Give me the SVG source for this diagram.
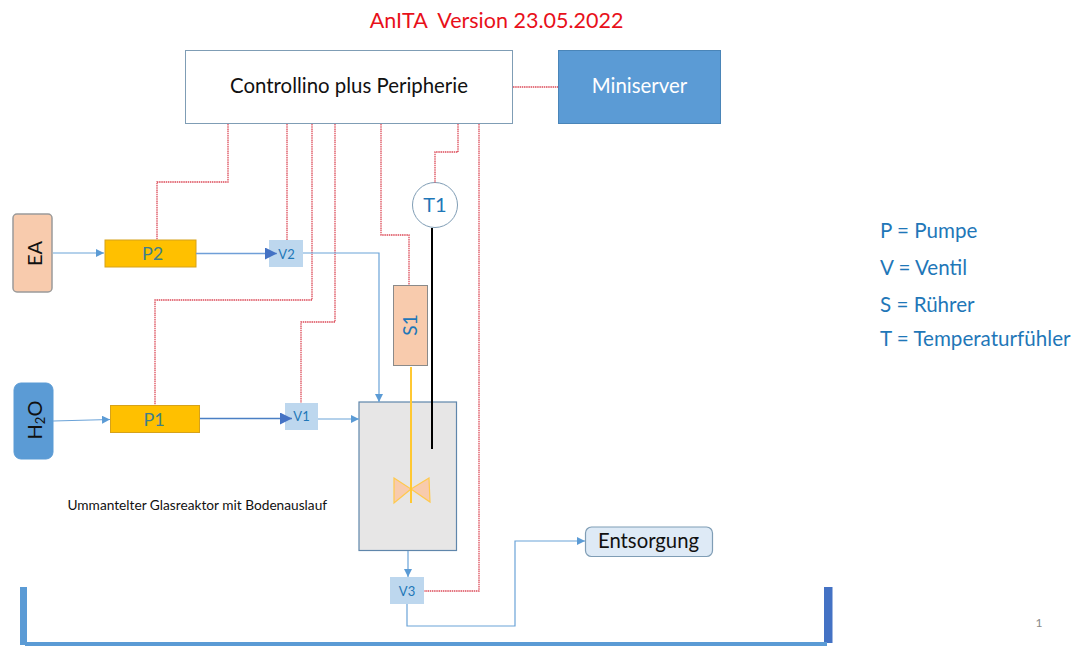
<svg xmlns="http://www.w3.org/2000/svg" width="1073" height="646" viewBox="0 0 1073 646">
<style>
text{font-family:"Lato","Open Sans",sans-serif}
.red{fill:none;stroke:#dc4a58;stroke-width:1.300;stroke-dasharray:1.500 .7}
.flow{fill:none;stroke:#6ba3d8;stroke-width:1.200}
.pump{fill:#ffc000;stroke:#d6a21a;stroke-width:1}
.valve{fill:#bdd7ee}
.blue{fill:#1f77b8}
</style>
<defs>
<marker id="a" markerWidth="9" markerHeight="8" refX="8" refY="4" orient="auto" markerUnits="userSpaceOnUse"><path d="M0 0L8 4L0 8Z" fill="#5b9bd5"/></marker>
<marker id="b" markerWidth="12" markerHeight="12" refX="12" refY="6" orient="auto" markerUnits="userSpaceOnUse"><path d="M0 0L12 6L0 12Z" fill="#4472c4"/></marker>
</defs>
<rect width="1073" height="646" fill="#fff"/>
<text x="496.500" y="28" font-size="21.500" fill="#e8101a" text-anchor="middle" xml:space="preserve">AnITA  Version 23.05.2022</text>
<g id="controllino"><rect x="185.500" y="50.500" width="327" height="73" fill="#fff" stroke="#7f9db5"/><text x="349" y="93" font-size="20.400" text-anchor="middle" fill="#111">Controllino plus Peripherie</text></g>
<g id="miniserver"><rect x="558.500" y="50.500" width="162" height="73" fill="#5b9bd5" stroke="#4a85b8"/><text x="639.500" y="93" font-size="20.400" text-anchor="middle" fill="#fff">Miniserver</text></g>
<g id="t1"><circle cx="435" cy="205" r="22.500" fill="#fff" stroke="#7f9db5"/><text x="435" y="211.500" font-size="20" text-anchor="middle" class="blue">T1</text></g>
<g id="ea"><rect x="13" y="214" width="39" height="78" rx="4" fill="#f8cbad" stroke="#9a9a9a" stroke-width="1.500"/><text transform="translate(42 253.500) rotate(-90)" font-size="20" text-anchor="middle" fill="#111">EA</text></g>
<g id="h2o"><rect x="14" y="383" width="39" height="76" rx="7" fill="#5b9bd5" stroke="#5b9bd5"/><text transform="translate(42 420) rotate(-90)" font-size="20" text-anchor="middle" fill="#111">H<tspan font-size="13" dy="3">2</tspan><tspan dy="-3">O</tspan></text></g>
<g id="p2"><rect x="105" y="240" width="91" height="27" class="pump"/><text x="152.500" y="260" font-size="18" text-anchor="middle" fill="#3f7f8a">P2</text></g>
<g id="p1"><rect x="110.500" y="405.500" width="89" height="27" class="pump"/><text x="154" y="425.500" font-size="18" text-anchor="middle" fill="#3f7f8a">P1</text></g>
<g id="v2"><rect x="269" y="240" width="34" height="27" class="valve"/><text x="286.500" y="258.500" font-size="13" text-anchor="middle" class="blue">V2</text></g>
<g id="v1"><rect x="285" y="403" width="33" height="27" class="valve"/><text x="301.500" y="420.500" font-size="13" text-anchor="middle" class="blue">V1</text></g>
<g id="v3"><rect x="390" y="577" width="34" height="27" class="valve"/><text x="407" y="596" font-size="13" text-anchor="middle" class="blue">V3</text></g>
<g id="s1"><rect x="393.500" y="285.500" width="34" height="80" fill="#f8cbad" stroke="#8a8a8a"/><text transform="translate(417 325) rotate(-90)" font-size="19" text-anchor="middle" class="blue">S1</text></g>
<g id="reactor"><rect x="359" y="402" width="97.500" height="148.500" fill="#e7e6e6" stroke="#5f86ab" stroke-width="1.200"/>
<path d="M394 478L411 489L394 503ZM429 478L411 489L430 502Z" fill="#f8cbad" stroke="#ffc94d" stroke-width="1.200"/>
<path d="M411 367V503" stroke="#ffc832" stroke-width="2" fill="none"/></g>
<g id="entsorgung"><rect x="585.500" y="527" width="127" height="29.500" rx="6" fill="#deeaf6" stroke="#7f9db5" stroke-width="1.200"/><text x="648.500" y="548" font-size="20.300" text-anchor="middle" fill="#111">Entsorgung</text></g>
<g id="connectors">
<path class="red" d="M513 87H558"/>
<path class="red" d="M228 124V182H157V240"/>
<path class="red" d="M287 124V240"/>
<path class="red" d="M312 124V300H155V405"/>
<path class="red" d="M335 124V322H301V403"/>
<path class="red" d="M381 124V235H409V285"/>
<path class="red" d="M458 124V152H435V183"/>
<path class="red" d="M479 124V591H424"/>
<path class="flow" d="M53 253H104" marker-end="url(#a)"/>
<path fill="none" stroke="#6f9fd8" stroke-width="1.600" d="M196 253.500H277" marker-end="url(#b)"/>
<path class="flow" d="M303 253H379V402" marker-end="url(#a)"/>
<path class="flow" d="M53 421L110 419.500" marker-end="url(#a)"/>
<path fill="none" stroke="#4a7fc4" stroke-width="1.500" d="M200 418.500H292" marker-end="url(#b)"/>
<path class="flow" d="M318 419H359" marker-end="url(#a)"/>
<path class="flow" d="M408 551V577" marker-end="url(#a)"/>
<path class="flow" d="M407 604V626H515V541H585" marker-end="url(#a)"/>
<path fill="none" stroke="#000" stroke-width="2" d="M432 228V449"/>
</g>
<text x="67.500" y="510" font-size="13.700" fill="#111">Ummantelter Glasreaktor mit Bodenauslauf</text>
<g font-size="20.600" class="blue"><text x="880" y="238">P = Pumpe</text><text x="880" y="275">V = Ventil</text><text x="880" y="312">S = Rührer</text><text x="880" y="346">T = Temperaturfühler</text></g>
<g id="tray"><rect x="20" y="587" width="7" height="58" fill="#5b9bd5"/><rect x="824" y="587" width="8.500" height="56" fill="#4472c4"/><rect x="25" y="642" width="802" height="4" fill="#5b9bd5"/></g>
<text x="1039" y="627" font-size="12" text-anchor="middle" fill="#8a8a8a">1</text>
</svg>
